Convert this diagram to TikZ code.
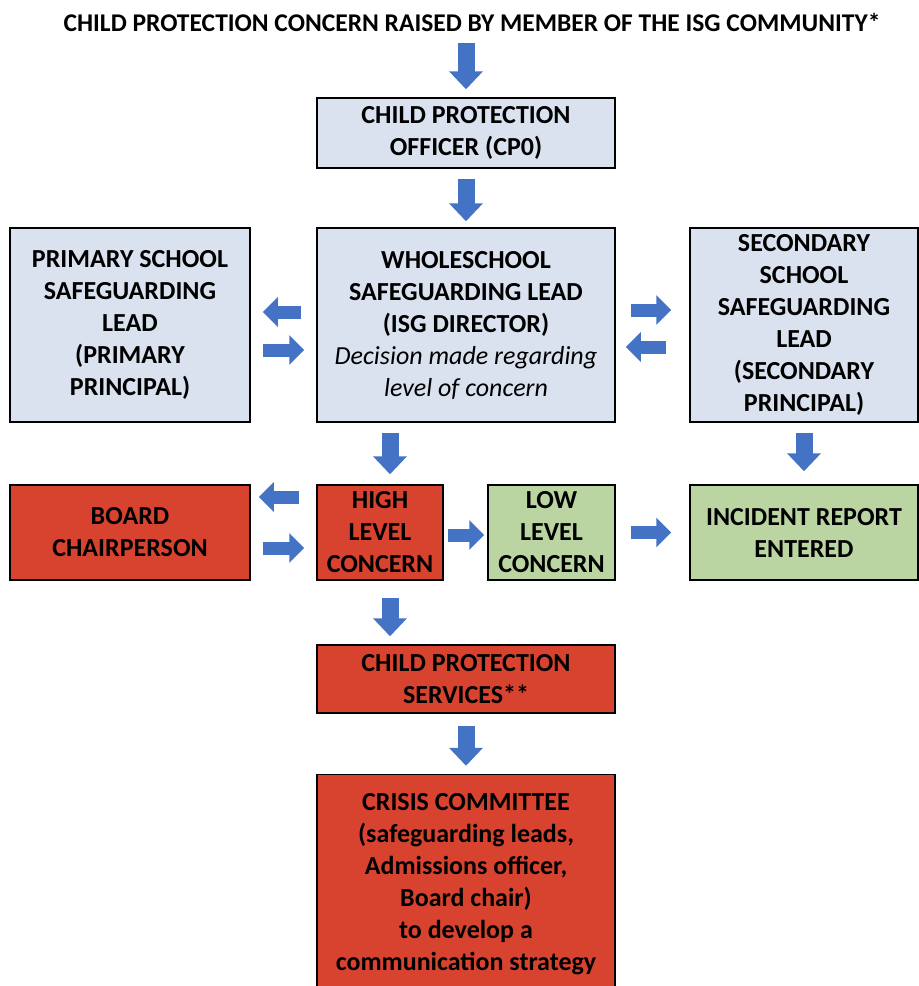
\documentclass[tikz,border=0pt]{standalone}
\usepackage{fontspec}
\setmainfont{Carlito}
\usetikzlibrary{arrows.meta, calc}
\definecolor{boxblue}{HTML}{DAE1EF}
\definecolor{boxred}{HTML}{D8432F}
\definecolor{boxgreen}{HTML}{BAD5A2}
\definecolor{arrowblue}{HTML}{4472C4}

\begin{document}
\begin{tikzpicture}[x=1pt, y=-1pt,
  font=\fontsize{26}{32}\selectfont\bfseries,
  box/.style={draw=black, line width=1.5pt, align=center, inner sep=0pt},
  bluebox/.style={box, fill=boxblue},
  redbox/.style={box, fill=boxred},
  greenbox/.style={box, fill=boxgreen},
  downflow/.style={draw=arrowblue, line width=17pt, -{Triangle[length=18pt,width=33pt]}},
  sideflow/.style={draw=arrowblue, line width=13pt, -{Triangle[length=15pt,width=29pt]}}]
\useasboundingbox (0,0) rectangle (919,986);

% title and boxes
\node[inner sep=0pt, font=\fontsize{25.5}{30}\selectfont\bfseries] (title) at (472,22) {CHILD PROTECTION CONCERN RAISED BY MEMBER OF THE ISG COMMUNITY*};
\node[bluebox, minimum width=298pt, minimum height=70pt] (cpo) at (466,133) {CHILD PROTECTION\\OFFICER (CP0)};
\node[bluebox, minimum width=298pt, minimum height=194pt] (wsl) at (466,325) {WHOLESCHOOL\\SAFEGUARDING LEAD\\(ISG DIRECTOR)\\{\mdseries\itshape Decision made regarding}\\{\mdseries\itshape level of concern}};
\node[bluebox, minimum width=240pt, minimum height=194pt] (prim) at (130,325) {PRIMARY SCHOOL\\SAFEGUARDING\\LEAD\\(PRIMARY\\PRINCIPAL)};
\node[bluebox, minimum width=228pt, minimum height=194pt] (sec) at (804,325) {SECONDARY\\SCHOOL\\SAFEGUARDING\\LEAD\\(SECONDARY\\PRINCIPAL)};
\node[redbox, minimum width=240pt, minimum height=95pt] (board) at (130,532.5) {BOARD\\CHAIRPERSON};
\node[redbox, minimum width=126pt, minimum height=95pt] (high) at (380,532.5) {HIGH\\LEVEL\\CONCERN};
\node[greenbox, minimum width=127pt, minimum height=95pt] (low) at (551.5,532.5) {LOW\\LEVEL\\CONCERN};
\node[greenbox, minimum width=228pt, minimum height=95pt] (inc) at (804,532.5) {INCIDENT REPORT\\ENTERED};
\node[redbox, minimum width=298pt, minimum height=68pt] (cps) at (466,679) {CHILD PROTECTION\\SERVICES**};
\node[redbox, minimum width=298pt, minimum height=219pt] (crisis) at (466,884) {CRISIS COMMITTEE\\(safeguarding leads,\\Admissions officer,\\Board chair)\\to develop a\\communication strategy};

% vertical arrows
\draw[downflow, shorten <=12pt, shorten >=8pt] (title.south -| cpo.north) -- (cpo.north);
\draw[downflow, shorten <=10pt, shorten >=6pt] (cpo.south) -- (wsl.north);
\draw[downflow, shorten <=10pt, shorten >=10pt] ([xshift=10pt]high.north |- wsl.south) -- ([xshift=10pt]high.north);
\draw[downflow, shorten <=10pt, shorten >=13pt] (sec.south) -- (inc.north);
\draw[downflow, shorten <=17pt, shorten >=8pt] ([xshift=10pt]high.south) -- ([xshift=10pt]high.south |- cps.north);
\draw[downflow, shorten <=12pt, shorten >=8pt] (cps.south) -- (crisis.north);

% horizontal arrows
\draw[sideflow, shorten <=15pt, shorten >=12pt] ([yshift=13pt]wsl.west) -- ([yshift=13pt]prim.east);
\draw[sideflow, shorten <=12pt, shorten >=12pt] ([yshift=-25pt]prim.east) -- ([yshift=-25pt]wsl.west);
\draw[sideflow, shorten <=15pt, shorten >=18pt] ([yshift=15pt]wsl.east) -- ([yshift=15pt]sec.west);
\draw[sideflow, shorten <=23pt, shorten >=10pt] ([yshift=-22pt]sec.west) -- ([yshift=-22pt]wsl.east);
\draw[sideflow, shorten <=17pt, shorten >=8pt] ([yshift=35.5pt]high.west) -- ([yshift=35.5pt]board.east);
\draw[sideflow, shorten <=12pt, shorten >=12pt] ([yshift=-15.5pt]board.east) -- ([yshift=-15.5pt]high.west);
\draw[sideflow, shorten <=4pt, shorten >=3pt] ([yshift=-2.5pt]high.east) -- ([yshift=-2.5pt]low.west);
\draw[sideflow, shorten <=15pt, shorten >=18pt] (low.east) -- (inc.west);
\end{tikzpicture}
\end{document}
